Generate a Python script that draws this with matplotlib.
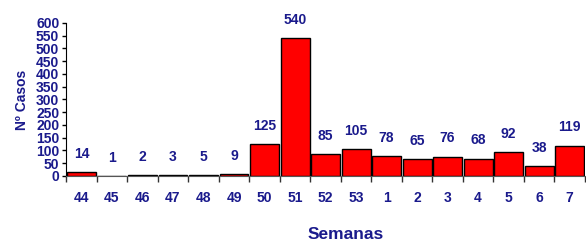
import matplotlib
matplotlib.use('agg')
import matplotlib.pyplot as plt
import numpy as np

semanas = ["44", "45", "46", "47", "48", "49", "50", "51", "52", "53",
           "1", "2", "3", "4", "5", "6", "7"]
casos = [14, 1, 2, 3, 5, 9, 125, 540, 85, 105, 78, 65, 76, 68, 92, 38, 119]

navy = "#1a1a8c"
plt.rcParams['font.family'] = ['Liberation Sans', 'DejaVu Sans']
plt.rcParams['font.weight'] = 'bold'

fig = plt.figure(figsize=(5.86, 2.44), dpi=100)
ax = fig.add_axes([0.113, 0.279, 0.885, 0.627])

x = np.arange(len(semanas))
ax.bar(x, casos, width=0.95, color="#ff0000", edgecolor="black", linewidth=1)

for xi, v in zip(x, casos):
    ax.annotate(str(v), (xi, v), xytext=(0, 8), textcoords="offset points",
                ha="center", va="bottom", color=navy, fontsize=10, fontweight="bold")

ax.set_xlim(-0.5, len(semanas) - 0.5)
ax.set_ylim(0, 600)
ax.set_yticks(np.arange(0, 601, 50))
ax.tick_params(axis="y", labelsize=10, labelcolor=navy, length=3, width=1, pad=2)
ax.set_xticks(x)
ax.set_xticklabels(semanas)
ax.tick_params(axis="x", length=0, labelsize=10, labelcolor=navy, pad=11)
ax.set_xticks(np.arange(-0.5, len(semanas), 1), minor=True)
ax.tick_params(axis="x", which="minor", length=4, width=1, color="#333333")

for s in ["top", "right"]:
    ax.spines[s].set_visible(False)
ax.spines["bottom"].set_color("#555555")

ax.set_ylabel("Nº Casos", color=navy, fontsize=10, fontweight="bold")
ax.yaxis.set_label_coords(-0.072, 0.5)
ax.set_xlabel("Semanas", color=navy, fontsize=12.5, fontweight="bold", va="center")
ax.xaxis.set_label_coords(0.538, -0.386)

fig.savefig("out.png", dpi=100)
